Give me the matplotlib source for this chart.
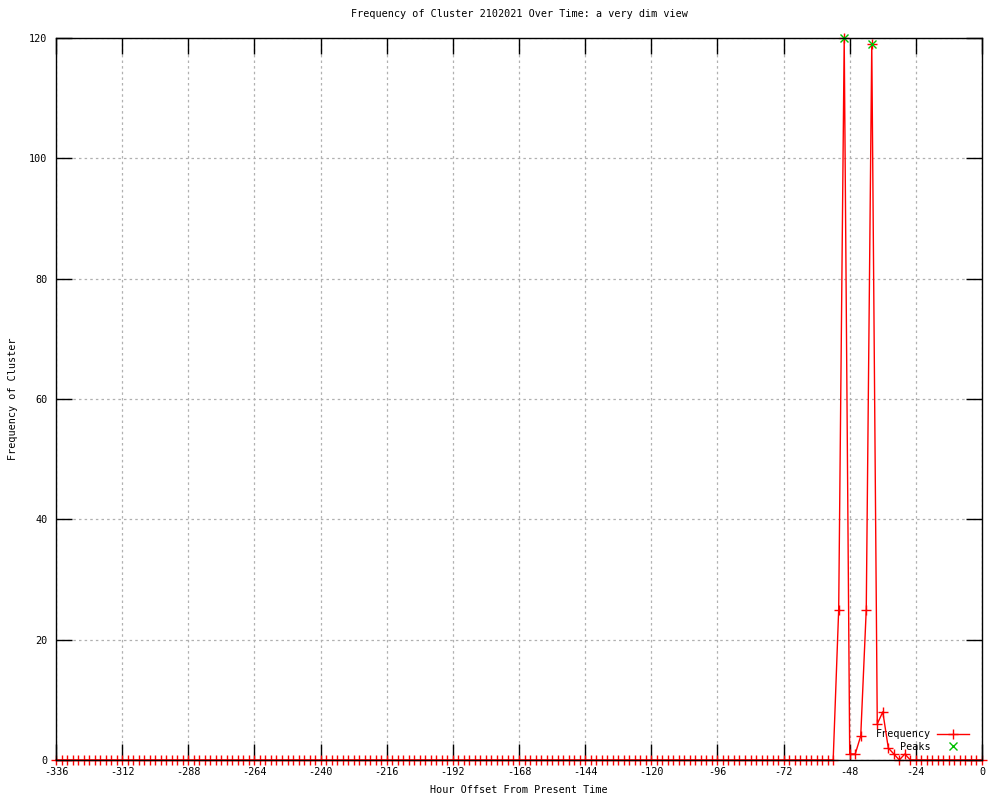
import matplotlib
matplotlib.use("Agg")
import matplotlib.pyplot as plt
import numpy as np

plt.rcParams['font.family'] = ['DejaVu Sans Mono']
plt.rcParams['axes.unicode_minus'] = False

# Data: hourly offsets every 2 hours
hours = list(range(-336, 1, 2))
nonzero = {-52: 25, -50: 120, -48: 1, -46: 1, -44: 4, -42: 25, -40: 119,
           -38: 6, -36: 8, -34: 2, -32: 1, -28: 1}
freq = [nonzero.get(h, 0) for h in hours]
peak_hours = [-50, -40]
peak_values = [120, 119]

x_ticks = list(range(-336, 1, 24))
y_ticks = list(range(0, 121, 20))

title = "Frequency of Cluster 2102021 Over Time: a very dim view"
xlabel = "Hour Offset From Present Time"
ylabel = "Frequency of Cluster"

fig = plt.figure(figsize=(10, 8), dpi=100)
ax = fig.add_axes([0.056, 0.05, 0.926, 0.9025])

fs = 7.3
ax.plot(hours, freq, color='#ff0000', lw=1.0, marker='+', ms=7, mew=1.0,
        label='Frequency', clip_on=False, zorder=6)
ax.plot(peak_hours, peak_values, ls='none', color='#00c000', marker='x', ms=6,
        mew=1.0, label='Peaks', clip_on=False, zorder=7)

ax.set_xlim(-336, 0)
ax.set_ylim(0, 120)
ax.set_xticks(x_ticks)
ax.set_yticks(y_ticks)
ax.tick_params(direction='in', length=11.5, width=1.0, top=True, right=True,
               labelsize=fs, colors='black')
ax.tick_params(axis='x', pad=5)
ax.tick_params(axis='y', pad=6)
ax.grid(True, color='#b0b0b0', ls=(0, (2, 2.5)), lw=0.9)
ax.set_axisbelow(True)
for s in ax.spines.values():
    s.set_linewidth(1.0)
    s.set_color('black')
    s.set_zorder(8)

ax.set_title(title, fontsize=fs, pad=15)
ax.set_xlabel(xlabel, fontsize=fs, labelpad=6)
ax.set_ylabel(ylabel, fontsize=fs, labelpad=8)

leg = ax.legend(loc='lower right', bbox_to_anchor=(0.997, -0.003), frameon=False,
                markerfirst=False, fontsize=fs, handlelength=3.2,
                handletextpad=0.6, labelspacing=0.25, borderaxespad=0.6)

fig.savefig("out.png", dpi=100)
